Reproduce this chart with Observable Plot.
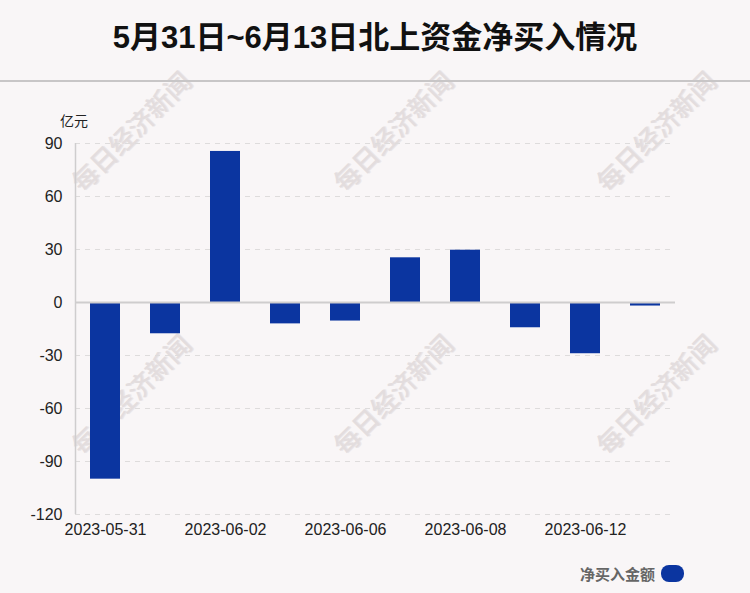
<!DOCTYPE html>
<html>
<head>
<meta charset="utf-8">
<script src="https://cdn.jsdelivr.net/npm/d3@7"></script>
<script src="https://cdn.jsdelivr.net/npm/@observablehq/plot@0.6"></script>
<style>
  html, body { margin: 0; padding: 0; background: #f9f6f7; }
  #wrap { position: relative; width: 750px; height: 593px; background: #f9f6f7; overflow: hidden;
          font-family: "Liberation Sans", "Noto Sans CJK SC", sans-serif; }
  #title { position: absolute; left: 0; top: 0; width: 750px; height: 80px; border-bottom: 2px solid #c8c6c7;
           text-align: center; line-height: 76px; font-size: 31px; font-weight: bold; color: #111;
           font-family: "Liberation Sans", "Noto Sans CJK SC", sans-serif; z-index: 2; }
  #chart { position: absolute; left: 0; top: 83px; z-index: 1; }
  #unit { position: absolute; left: 60px; top: 110px; font-size: 14px; color: #222; font-family: "Noto Sans CJK SC", sans-serif; z-index: 2; }
  #legend { position: absolute; right: 66px; top: 563px; display: flex; align-items: center; gap: 6px;
            font-size: 15px; font-weight: bold; color: #666; font-family: "Noto Sans CJK SC", sans-serif; z-index: 2; }
  #legend .sw { width: 23px; height: 17px; border-radius: 8px; background: #0b35a0; }
  .wm { position: absolute; font-size: 26px; color: #e3ddde; transform: rotate(-45deg); white-space: nowrap;
        font-family: "Noto Sans CJK SC", serif; font-weight: 500; pointer-events: none; z-index: 0;
        text-shadow: 1px 1px 0 #ebe6e7; }
</style>
</head>
<body>
<div id="wrap">
  <div id="title">5月31日~6月13日北上资金净买入情况</div>
  <div id="chart"></div>
  <div id="unit">亿元</div>
  <div id="legend"><span>净买入金额</span><span class="sw"></span></div>
</div>
<script>
const dates = ["2023-05-31","2023-06-01","2023-06-02","2023-06-05","2023-06-06","2023-06-07","2023-06-08","2023-06-09","2023-06-12","2023-06-13"];
const values = [-100, -17.7, 85.5, -12.1, -10.5, 25.3, 29.6, -14.3, -29.0, -2.0];
const yTicks = [90, 60, 30, 0, -30, -60, -90, -120];
const shownLabels = ["2023-05-31","2023-06-02","2023-06-06","2023-06-08","2023-06-12"];
const watermark = "每日经济新闻";
const wmSpots = [[130,130],[392,130],[655,130],[130,393],[392,393],[655,393]];

const data = dates.map((d, i) => ({date: d, value: values[i]}));

const chart = Plot.plot({
  width: 750,
  height: 461,
  marginLeft: 75,
  marginRight: 75,
  marginTop: 60,
  marginBottom: 30,
  style: {background: "transparent", fontFamily: "Liberation Sans, Arial, sans-serif", fontSize: "16px", color: "#222"},
  x: {domain: dates, paddingInner: 0.5, paddingOuter: 0.25, label: null},
  y: {domain: [-120, 90], label: null, axis: null},
  marks: [
    Plot.ruleY(yTicks.filter(t => t !== 0), {stroke: "#dedcdc", strokeDasharray: "5,5", strokeWidth: 1, strokeOpacity: 1}),
    Plot.ruleX([dates[0]], {y1: -120, y2: 90, dx: -30, stroke: "#cfcdce", strokeWidth: 1.5}),
    Plot.barY(data, {x: "date", y: "value", fill: "#0b35a0"}),
    Plot.ruleY([0], {stroke: "#cfcdce", strokeWidth: 2}),
    Plot.text(yTicks, {y: d => d, text: d => String(d), frameAnchor: "left", dx: -13, textAnchor: "end",
      fontSize: 16, fill: "#222"}),
    Plot.axisX({tickSize: 0, tickPadding: 9, fontSize: 16, fill: "#222", label: null,
      tickFormat: d => shownLabels.includes(d) ? d : ""})
  ]
});
document.getElementById("chart").appendChild(chart);

const wrap = document.getElementById("wrap");
wmSpots.forEach(([cx, cy]) => {
  const el = document.createElement("div");
  el.className = "wm";
  el.textContent = watermark;
  wrap.insertBefore(el, wrap.firstChild);
  const w = el.offsetWidth, h = el.offsetHeight;
  el.style.left = (cx - w / 2) + "px";
  el.style.top = (cy - h / 2) + "px";
});
</script>
</body>
</html>
